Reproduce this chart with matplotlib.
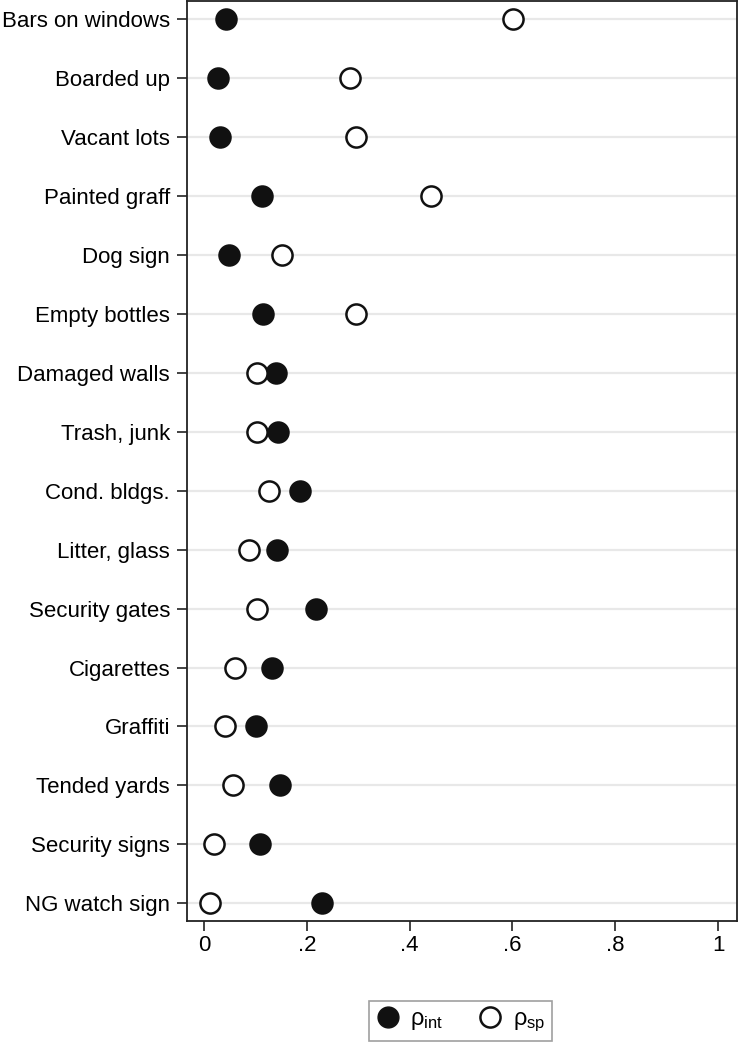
import matplotlib
matplotlib.use("Agg")
import matplotlib.pyplot as plt
from matplotlib.lines import Line2D

plt.rcParams['font.family'] = ['Liberation Sans', 'DejaVu Sans']
plt.rcParams['mathtext.fontset'] = 'custom'
plt.rcParams['mathtext.rm'] = 'Liberation Sans'
plt.rcParams['mathtext.it'] = 'Liberation Sans'

# items, top to bottom
items = ["Bars on windows", "Boarded up", "Vacant lots", "Painted graff",
         "Dog sign", "Empty bottles", "Damaged walls", "Trash, junk",
         "Cond. bldgs.", "Litter, glass", "Security gates", "Cigarettes",
         "Graffiti", "Tended yards", "Security signs", "NG watch sign"]

rho_int = [0.043, 0.026, 0.030, 0.113, 0.049, 0.114, 0.139, 0.144,
           0.187, 0.141, 0.217, 0.132, 0.100, 0.147, 0.108, 0.230]
rho_sp = [0.601, 0.283, 0.296, 0.441, 0.152, 0.296, 0.102, 0.102,
          0.127, 0.088, 0.103, 0.059, 0.040, 0.057, 0.020, 0.012]

xticks = [0, 0.2, 0.4, 0.6, 0.8, 1.0]
xticklabels = ["0", ".2", ".4", ".6", ".8", "1"]

fig = plt.figure(figsize=(7.38, 10.5), dpi=100)
ax = fig.add_axes([0.253, 0.1229, 0.745, 0.8757])

ypos = list(range(len(items)))
for y in ypos:
    ax.axhline(y, color='#e8e8e8', lw=1.6, zorder=0)

ax.plot(rho_int, ypos, 'o', ms=15, mfc='#111111', mec='#111111',
        mew=1.2, ls='none', zorder=3)
ax.plot(rho_sp, ypos, 'o', ms=14.5, mfc='white', mec='#111111',
        mew=1.8, ls='none', zorder=3)

ax.set_ylim(len(items) - 1 + 0.3, -0.3)
ax.set_xlim(-0.034, 1.036)
ax.set_yticks(ypos)
ax.set_yticklabels(items, fontsize=16)
ax.set_xticks(xticks)
ax.set_xticklabels(xticklabels, fontsize=16)
ax.tick_params(axis='y', length=7, width=1.2, color='#222222', pad=5)
ax.tick_params(axis='x', length=7, width=1.2, color='#222222', pad=3)
for s in ax.spines.values():
    s.set_linewidth(1.3)
    s.set_color('#222222')

handles = [
    Line2D([], [], marker='o', ls='none', ms=15, mfc='#111111', mec='#111111'),
    Line2D([], [], marker='o', ls='none', ms=14.5, mfc='white', mec='#111111', mew=1.8),
]
leg = fig.legend(handles, [r'$\rho_{\mathrm{int}}$', r'$\rho_{\mathrm{sp}}$'],
                 loc='center', bbox_to_anchor=(0.624, 0.0276), ncol=2,
                 fontsize=17, frameon=True, fancybox=False,
                 handletextpad=0.45, columnspacing=1.5, borderpad=0.3,
                 handlelength=1.0, borderaxespad=0)
leg.get_frame().set_edgecolor('#888888')
leg.get_frame().set_linewidth(1.2)

fig.savefig("out.png", dpi=100)
